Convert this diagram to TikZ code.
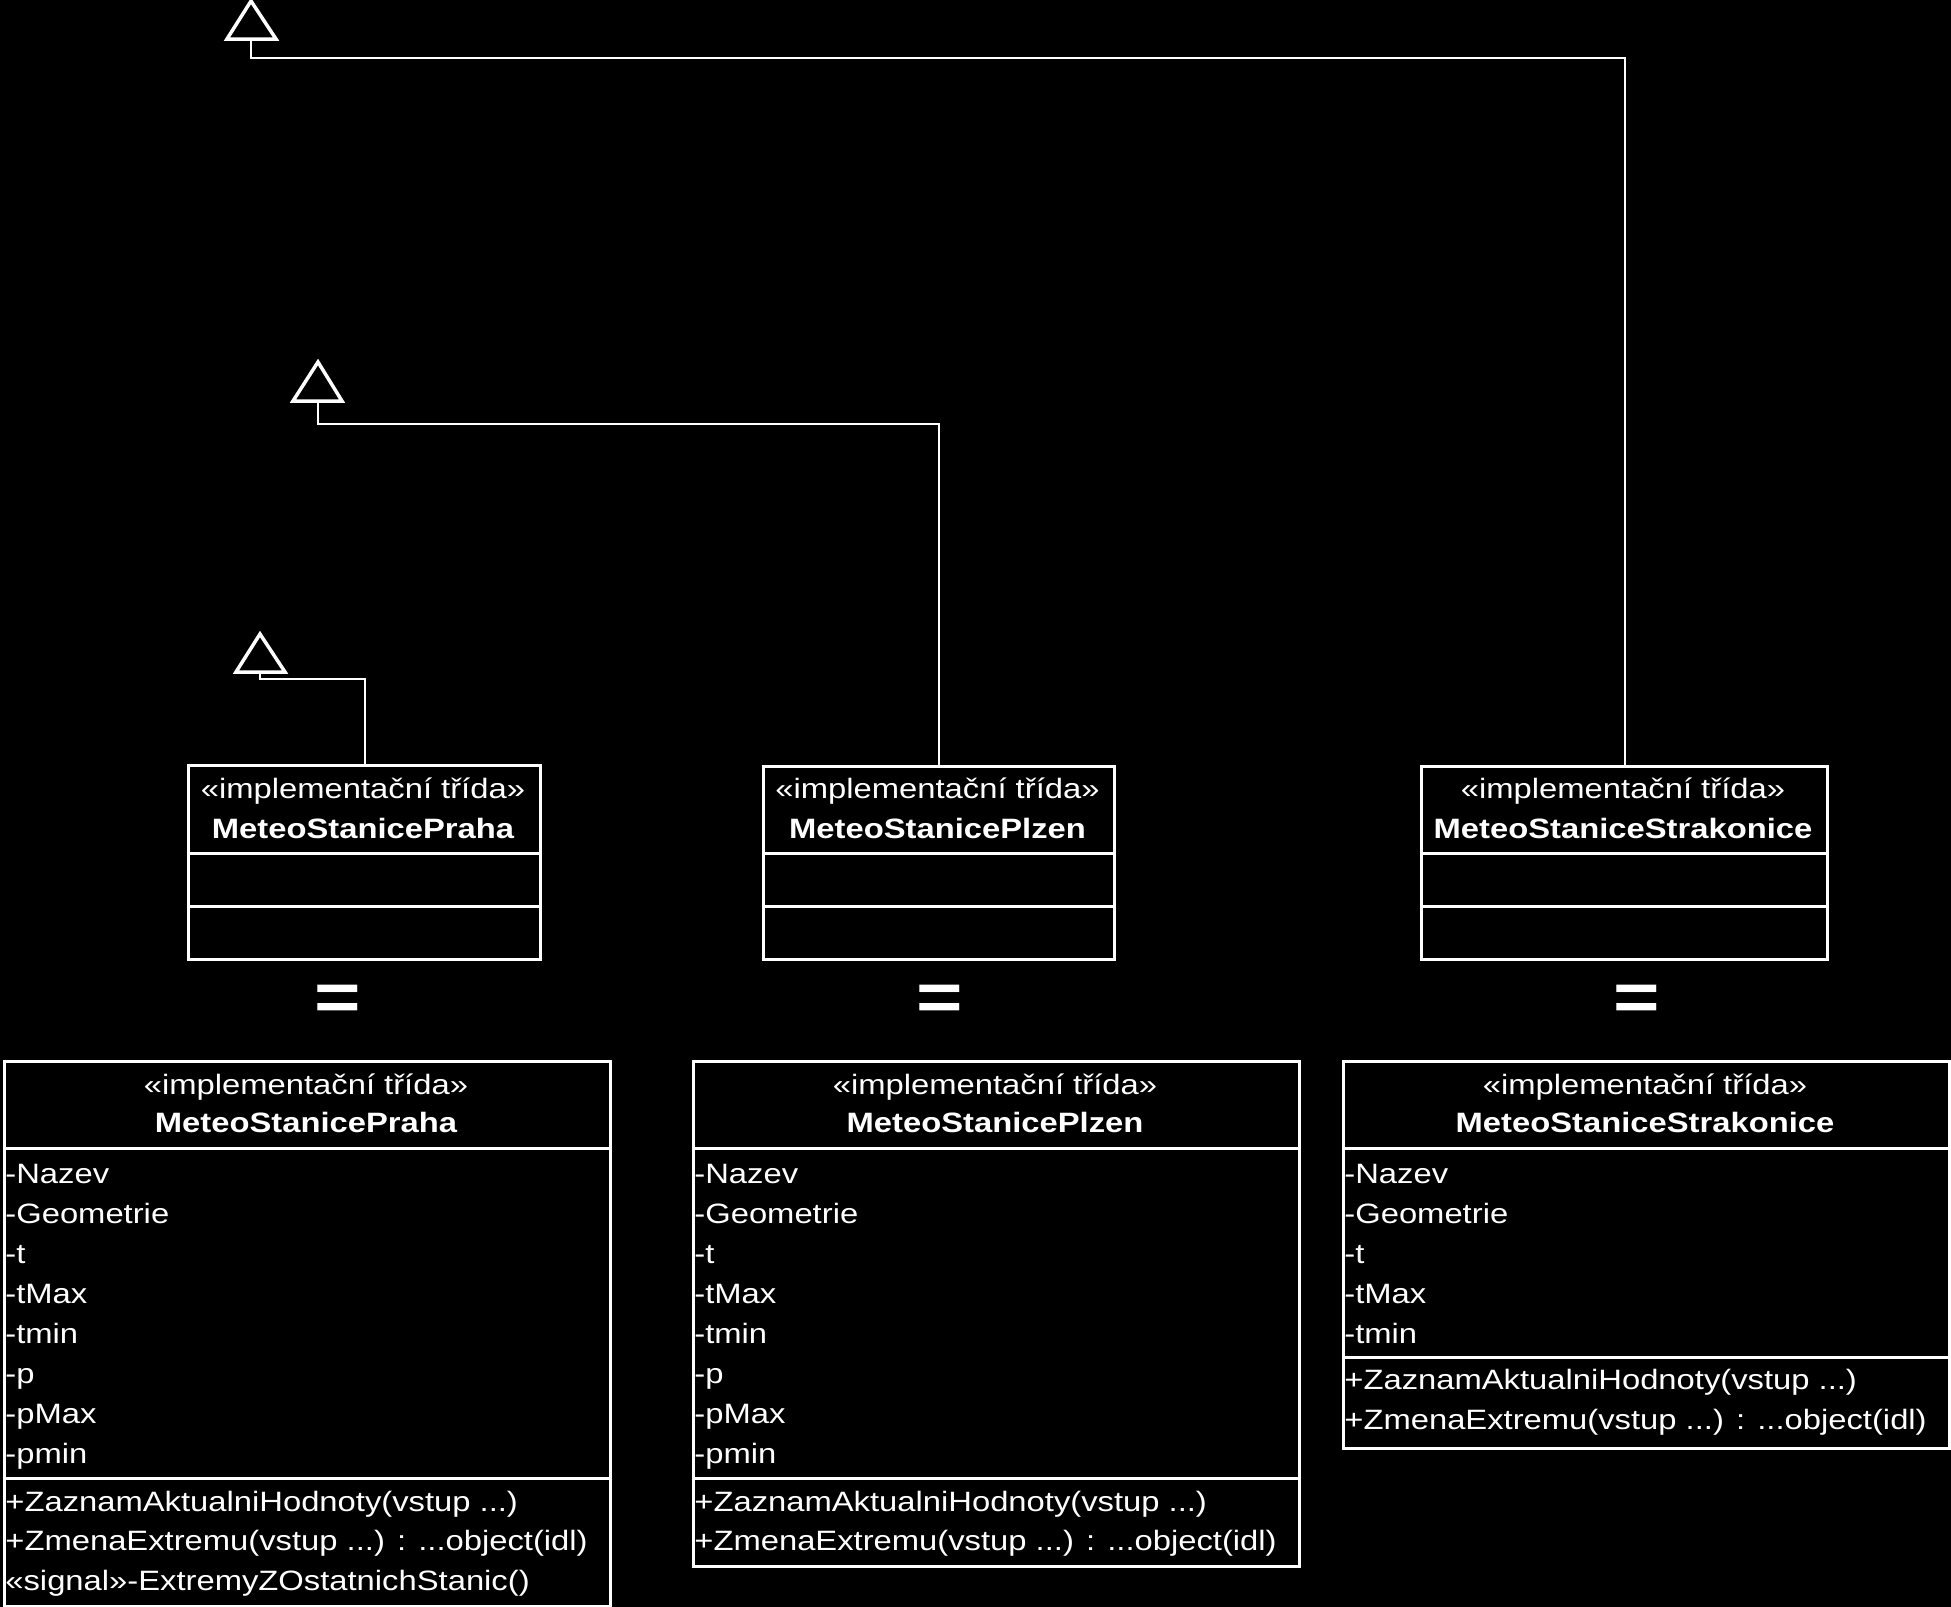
\documentclass[tikz,border=0pt]{standalone}
\usepackage{fontspec}
\setmainfont{Liberation Sans}[FakeStretch=1.17]
\begin{document}
\begin{tikzpicture}[x=0.5pt,y=-0.5pt,
  box/.style={draw=white, line width=1.5pt, inner sep=0pt, anchor=north west},
  sep/.style={draw=white, line width=1.5pt},
  conn/.style={draw=white, line width=1pt},
  gen/.style={draw=white, line width=1.75pt, line join=miter},
  txt/.style={text=white, inner sep=0pt, font=\fontsize{14pt}{20pt}\selectfont},
  hd/.style={txt, anchor=base},
  nm/.style={txt, anchor=base, font=\fontsize{14pt}{20pt}\selectfont\bfseries},
  item/.style={txt, anchor=base west},
  eq/.style={text=white, inner sep=0pt, font=\fontsize{34pt}{34pt}\selectfont\bfseries}]
\fill[black] (0,0) rectangle (1951,1607);
\useasboundingbox (0,0) rectangle (1951,1607);

% ---------- small boxes ----------
\node[box, minimum width=176pt, minimum height=97pt] (sP) at (187,764) {};
\draw[sep] (187,853) -- (539,853);
\draw[sep] (187,906) -- (539,906);
\node[hd] (sPst) at (363,798) {«implementační třída»};
\node[nm] (sPnm) at (363,838) {MeteoStanicePraha};

\node[box, minimum width=175.5pt, minimum height=96.5pt] (sL) at (762,765) {};
\draw[sep] (762,853) -- (1113,853);
\draw[sep] (762,906) -- (1113,906);
\node[hd] (sLst) at (937.5,798) {«implementační třída»};
\node[nm] (sLnm) at (937.5,838) {MeteoStanicePlzen};

\node[box, minimum width=203pt, minimum height=96.5pt] (sS) at (1420,765) {};
\draw[sep] (1420,853) -- (1826,853);
\draw[sep] (1420,906) -- (1826,906);
\node[hd] (sSst) at (1623,798) {«implementační třída»};
\node[nm] (sSnm) at (1623,838) {MeteoStaniceStrakonice};

% ---------- generalizations ----------
\coordinate (gP) at (260,672);
\draw[gen] (236,672) -- (260,634) -- (285,672) -- cycle;
\draw[conn] (gP) -- ++(0,7) -| (sP.north);

\coordinate (gL) at (318,401);
\draw[gen] (293,401) -- (318,362) -- (342,401) -- cycle;
\draw[conn] (gL) -- ++(0,23) -| (sL.north);

\coordinate (gS) at (251,39);
\draw[gen] (227,39) -- (251,1) -- (276,39) -- cycle;
\draw[conn] (gS) -- ++(0,19) -| (sS.north);

% ---------- equals signs ----------
\node[eq] (eP) at (337.5,1002.5) {=};
\node[eq] (eL) at (940,1002.5) {=};
\node[eq] (eS) at (1637,1002.5) {=};

% ---------- big Praha ----------
\node[box, minimum width=303pt, minimum height=272.5pt] (bP) at (3,1060) {};
\draw[sep] (3,1148) -- (609,1148);
\draw[sep] (3,1478) -- (609,1478);
\node[hd] (bPst) at (306,1094) {«implementační třída»};
\node[nm] (bPnm) at (306,1132) {MeteoStanicePraha};
\node[item] (bPa1) at (5,1183) {-Nazev};
\node[item] (bPa2) at (5,1223) {-Geometrie};
\node[item] (bPa3) at (5,1263) {-t};
\node[item] (bPa4) at (5,1303) {-tMax};
\node[item] (bPa5) at (5,1343) {-tmin};
\node[item] (bPa6) at (5,1383) {-p};
\node[item] (bPa7) at (5,1423) {-pMax};
\node[item] (bPa8) at (5,1463) {-pmin};
\node[item] (bPo1) at (5,1511) {+ZaznamAktualniHodnoty(vstup ...)};
\node[item] (bPo2) at (5,1550) {+ZmenaExtremu(vstup ...) : ...object(idl)};
\node[item] (bPo3) at (5,1590) {«signal»-ExtremyZOstatnichStanic()};

% ---------- big Plzen ----------
\node[box, minimum width=303pt, minimum height=252.5pt] (bL) at (692,1060) {};
\draw[sep] (692,1148) -- (1298,1148);
\draw[sep] (692,1478) -- (1298,1478);
\node[hd] (bLst) at (995,1094) {«implementační třída»};
\node[nm] (bLnm) at (995,1132) {MeteoStanicePlzen};
\node[item] (bLa1) at (694,1183) {-Nazev};
\node[item] (bLa2) at (694,1223) {-Geometrie};
\node[item] (bLa3) at (694,1263) {-t};
\node[item] (bLa4) at (694,1303) {-tMax};
\node[item] (bLa5) at (694,1343) {-tmin};
\node[item] (bLa6) at (694,1383) {-p};
\node[item] (bLa7) at (694,1423) {-pMax};
\node[item] (bLa8) at (694,1463) {-pmin};
\node[item] (bLo1) at (694,1511) {+ZaznamAktualniHodnoty(vstup ...)};
\node[item] (bLo2) at (694,1550) {+ZmenaExtremu(vstup ...) : ...object(idl)};

% ---------- big Strakonice ----------
\node[box, minimum width=303pt, minimum height=193.5pt] (bS) at (1342,1060) {};
\draw[sep] (1342,1148) -- (1948,1148);
\draw[sep] (1342,1357) -- (1948,1357);
\node[hd] (bSst) at (1645,1094) {«implementační třída»};
\node[nm] (bSnm) at (1645,1132) {MeteoStaniceStrakonice};
\node[item] (bSa1) at (1344,1183) {-Nazev};
\node[item] (bSa2) at (1344,1223) {-Geometrie};
\node[item] (bSa3) at (1344,1263) {-t};
\node[item] (bSa4) at (1344,1303) {-tMax};
\node[item] (bSa5) at (1344,1343) {-tmin};
\node[item] (bSo1) at (1344,1389) {+ZaznamAktualniHodnoty(vstup ...)};
\node[item] (bSo2) at (1344,1429) {+ZmenaExtremu(vstup ...) : ...object(idl)};
\end{tikzpicture}
\end{document}
